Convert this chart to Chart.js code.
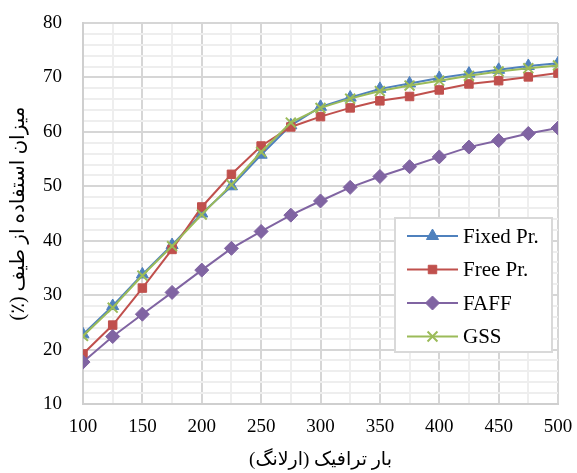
<!DOCTYPE html>
<html>
<head>
<meta charset="utf-8">
<script src="https://cdn.jsdelivr.net/npm/chart.js@4"></script>
<style>
  html, body { margin: 0; padding: 0; background: #fff; }
  #wrap { width: 577px; height: 473px; }
</style>
</head>
<body>
<div id="wrap"><canvas id="chart" width="577" height="473"></canvas></div>
<script>
const traffic = [100, 125, 150, 175, 200, 225, 250, 275, 300, 325, 350, 375, 400, 425, 450, 475, 500];
const fixedPr = [22.8, 28.0, 33.8, 39.2, 45.0, 50.0, 55.8, 61.2, 64.6, 66.3, 67.9, 68.9, 69.9, 70.7, 71.4, 72.1, 72.6];
const freePr  = [19.2, 24.5, 31.3, 38.4, 46.2, 52.2, 57.4, 60.9, 62.8, 64.4, 65.7, 66.5, 67.7, 68.8, 69.4, 70.1, 70.8];
const faff    = [17.7, 22.4, 26.5, 30.5, 34.6, 38.6, 41.7, 44.7, 47.3, 49.8, 51.8, 53.6, 55.4, 57.2, 58.4, 59.7, 60.7];
const gss     = [22.5, 27.7, 33.6, 39.0, 44.8, 50.3, 56.3, 61.7, 64.4, 66.1, 67.5, 68.5, 69.4, 70.3, 71.1, 71.7, 72.2];
const seriesNames = ['Fixed Pr.', 'Free Pr.', 'FAFF', 'GSS'];
const xTitle = 'بار ترافیک (ارلانگ)';
const yTitle = 'میزان استفاده از طیف (٪)';

const serif = "'Liberation Serif', 'Times New Roman', 'DejaVu Sans', serif";
// wrap persian text in a right-to-left embedding so the brackets land right
const rtl = s => '\u202B' + s + '\u202C';

function pts(arr) { return arr.map((v, i) => ({ x: traffic[i], y: v })); }

const styles = [
  { color: '#4f81bd', point: 'triangle', radius: 7 },
  { color: '#c0504d', point: 'rect', radius: 6 },
  { color: '#8064a2', point: 'rectRot', radius: 7 },
  { color: '#9bbb59', point: 'crossRot', radius: 7 }
];
const values = [fixedPr, freePr, faff, gss];

const datasets = values.map((v, i) => ({
  label: seriesNames[i],
  data: pts(v),
  borderColor: styles[i].color,
  backgroundColor: styles[i].color,
  borderWidth: 2,
  pointStyle: styles[i].point,
  pointRadius: styles[i].radius,
  pointBorderWidth: i === 3 ? 2 : 1,
  pointBorderColor: styles[i].color,
  pointBackgroundColor: styles[i].color,
  tension: 0,
  order: 4 - i
}));

// legend box drawn inside the plot area
const boxLegend = {
  id: 'boxLegend',
  afterDraw(chart) {
    const ctx = chart.ctx;
    const x0 = 395, y0 = 218, w = 157, h = 134;
    ctx.save();
    ctx.fillStyle = '#fff';
    ctx.fillRect(x0, y0, w, h);
    ctx.strokeStyle = '#d9d9d9';
    ctx.lineWidth = 2;
    ctx.strokeRect(x0, y0, w, h);
    ctx.font = '21px ' + serif;
    ctx.textBaseline = 'middle';
    chart.data.datasets.forEach((ds, i) => {
      const cy = y0 + 18 + i * 33.5;
      ctx.strokeStyle = ds.borderColor;
      ctx.lineWidth = 2;
      ctx.beginPath();
      ctx.moveTo(x0 + 12, cy);
      ctx.lineTo(x0 + 63, cy);
      ctx.stroke();
      ctx.fillStyle = ds.borderColor;
      ctx.lineWidth = ds.pointBorderWidth;
      Chart.helpers.drawPoint(ctx, {
        pointStyle: ds.pointStyle,
        radius: ds.pointRadius,
        borderWidth: ds.pointBorderWidth
      }, x0 + 37.5, cy);
      ctx.fillStyle = '#000';
      ctx.fillText(ds.label, x0 + 68, cy + 1);
    });
    ctx.restore();
  }
};

new Chart(document.getElementById('chart'), {
  type: 'line',
  data: { datasets },
  options: {
    responsive: false,
    animation: false,
    layout: { padding: { top: 23, right: 19, left: 0, bottom: 0 } },
    plugins: { legend: { display: false }, tooltip: { enabled: false } },
    scales: {
      x: {
        type: 'linear',
        min: 100, max: 500,
        afterFit: s => { s.height = 69; s.paddingLeft = 0; s.paddingRight = 0; },
        ticks: {
          stepSize: 25,
          padding: 12,
          color: '#000',
          font: { family: serif, size: 19 },
          maxRotation: 0,
          autoSkip: false,
          callback: v => (v % 50 === 0 ? v : '')
        },
        grid: {
          drawTicks: false,
          color: c => (c.tick.value % 50 === 0 ? '#d6d6d6' : '#eeeeee'),
          lineWidth: 2
        },
        border: { color: '#cfcfcf', width: 2 },
        title: {
          display: true,
          text: rtl(xTitle),
          color: '#000',
          font: { family: serif, size: 19 },
          padding: { top: 0, bottom: 2 }
        }
      },
      y: {
        min: 10, max: 80,
        afterFit: s => { s.width = 83; s.paddingTop = 0; s.paddingBottom = 0; },
        ticks: {
          stepSize: 2,
          padding: 21,
          color: '#000',
          font: { family: serif, size: 19 },
          autoSkip: false,
          callback: v => (v % 10 === 0 ? v : '')
        },
        grid: {
          drawTicks: false,
          color: c => (c.tick.value % 10 === 0 ? '#d6d6d6' : '#eeeeee'),
          lineWidth: 2
        },
        border: { color: '#cfcfcf', width: 2 },
        title: {
          display: true,
          text: rtl(yTitle),
          color: '#000',
          font: { family: serif, size: 20 },
          padding: { top: 7, bottom: 0 }
        }
      }
    }
  },
  plugins: [boxLegend]
});
</script>
</body>
</html>
